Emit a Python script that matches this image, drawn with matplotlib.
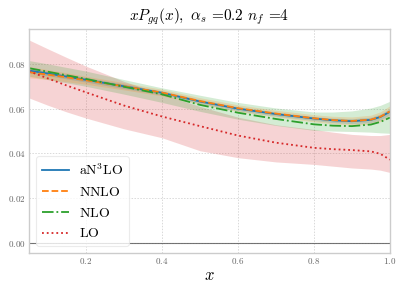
import matplotlib
matplotlib.use("Agg")
import matplotlib.pyplot as plt
from matplotlib.ticker import FuncFormatter

x = [0.05, 0.1, 0.15, 0.2, 0.3, 0.4, 0.5, 0.6, 0.7, 0.8, 0.85, 0.9, 0.95, 0.975, 1.0]

an3lo = [0.0770, 0.0757, 0.0743, 0.0729, 0.0700, 0.0671, 0.0632, 0.0600, 0.0576, 0.0556, 0.0548, 0.0544, 0.0550, 0.0563, 0.0586]
an3lo_hi = [0.0780, 0.0767, 0.0753, 0.0739, 0.0710, 0.0680, 0.0641, 0.0609, 0.0585, 0.0565, 0.0558, 0.0555, 0.0562, 0.0576, 0.0600]
an3lo_lo = [0.0760, 0.0747, 0.0733, 0.0719, 0.0690, 0.0662, 0.0623, 0.0591, 0.0567, 0.0547, 0.0538, 0.0533, 0.0538, 0.0550, 0.0572]

nnlo = [0.0763, 0.0752, 0.0740, 0.0727, 0.0700, 0.0672, 0.0634, 0.0602, 0.0578, 0.0557, 0.0549, 0.0545, 0.0551, 0.0564, 0.0588]
nnlo_hi = [0.0788, 0.0774, 0.0760, 0.0745, 0.0716, 0.0687, 0.0649, 0.0617, 0.0593, 0.0573, 0.0566, 0.0563, 0.0571, 0.0586, 0.0613]
nnlo_lo = [0.0738, 0.0730, 0.0720, 0.0709, 0.0684, 0.0657, 0.0619, 0.0587, 0.0563, 0.0541, 0.0532, 0.0527, 0.0531, 0.0542, 0.0563]

nlo = [0.0781, 0.0765, 0.0749, 0.0733, 0.0698, 0.0664, 0.0617, 0.0582, 0.0554, 0.0530, 0.0524, 0.0522, 0.0529, 0.0541, 0.0560]
nlo_hi = [0.0815, 0.0800, 0.0784, 0.0768, 0.0730, 0.0693, 0.0660, 0.0628, 0.0603, 0.0585, 0.0585, 0.0590, 0.0603, 0.0615, 0.0633]
nlo_lo = [0.0745, 0.0730, 0.0715, 0.0700, 0.0665, 0.0628, 0.0588, 0.0553, 0.0525, 0.0503, 0.0500, 0.0498, 0.0495, 0.0492, 0.0490]

lo = [0.0767, 0.0735, 0.0703, 0.0673, 0.0614, 0.0565, 0.0522, 0.0480, 0.0448, 0.0425, 0.0419, 0.0415, 0.0409, 0.0398, 0.0372]
lo_hi = [0.0907, 0.0867, 0.0828, 0.0790, 0.0722, 0.0665, 0.0610, 0.0562, 0.0528, 0.0507, 0.0495, 0.0485, 0.0480, 0.0480, 0.0485]
lo_lo = [0.0648, 0.0615, 0.0585, 0.0558, 0.0510, 0.0470, 0.0412, 0.0381, 0.0362, 0.0351, 0.0343, 0.0335, 0.0330, 0.0325, 0.0315]

labels = [r"$\mathrm{aN^3LO}$", r"$\mathrm{NNLO}$", r"$\mathrm{NLO}$", r"$\mathrm{LO}$"]
xticks = [0.2, 0.4, 0.6, 0.8, 1.0]
yticks = [0.00, 0.02, 0.04, 0.06, 0.08]

plt.rcParams["mathtext.fontset"] = "cm"
plt.rcParams["axes.unicode_minus"] = False

fig = plt.figure(figsize=(4.07, 2.91), dpi=100)
ax = fig.add_axes([0.0713, 0.1306, 0.8867, 0.7697])

c_blue, c_orange, c_green, c_red = "#1f77b4", "#ff7f0e", "#2ca02c", "#d62728"

ax.fill_between(x, lo_lo, lo_hi, color=c_red, alpha=0.2, lw=0)
ax.fill_between(x, nlo_lo, nlo_hi, color=c_green, alpha=0.2, lw=0)
ax.fill_between(x, nnlo_lo, nnlo_hi, color=c_orange, alpha=0.2, lw=0)
ax.fill_between(x, an3lo_lo, an3lo_hi, color=c_blue, alpha=0.2, lw=0)

ax.plot(x, an3lo, color=c_blue, lw=1.3, ls="-", label=labels[0])
ax.plot(x, nnlo, color=c_orange, lw=1.3, ls="--", label=labels[1])
ax.plot(x, nlo, color=c_green, lw=1.3, ls="-.", label=labels[2])
ax.plot(x, lo, color=c_red, lw=1.3, ls=":", label=labels[3])

ax.axhline(0.0, color="#555555", lw=0.8, alpha=0.8)

ax.set_xlim(0.05, 1.0)
ax.set_ylim(-0.0045, 0.0956)
ax.set_xticks(xticks)
ax.set_yticks(yticks)
ax.xaxis.set_major_formatter(FuncFormatter(lambda v, p: r"$%.1f$" % v))
ax.yaxis.set_major_formatter(FuncFormatter(lambda v, p: r"$%.2f$" % v))
ax.tick_params(axis="both", length=0, labelsize=6.5, labelcolor="#666666", pad=2.5)

ax.grid(True, color="#d9d9d9", ls=(0, (1.5, 1.5)), lw=0.7)
ax.set_axisbelow(True)
for s in ax.spines.values():
    s.set_color("#cccccc")
    s.set_linewidth(1.0)

ax.set_title(r"$xP_{gq}(x),\ \alpha_s$ =0.2 $n_f$ =4", fontsize=11, pad=6,
             fontfamily="cmr10")
ax.set_xlabel(r"$x$", fontsize=12, labelpad=0)

leg = ax.legend(loc="lower left", fontsize=10, frameon=True, handlelength=2.0,
                handletextpad=0.7, borderpad=0.4, labelspacing=0.5)
leg.get_frame().set_edgecolor("#e6e6e6")
leg.get_frame().set_linewidth(0.8)

fig.savefig("out.png", dpi=100)
